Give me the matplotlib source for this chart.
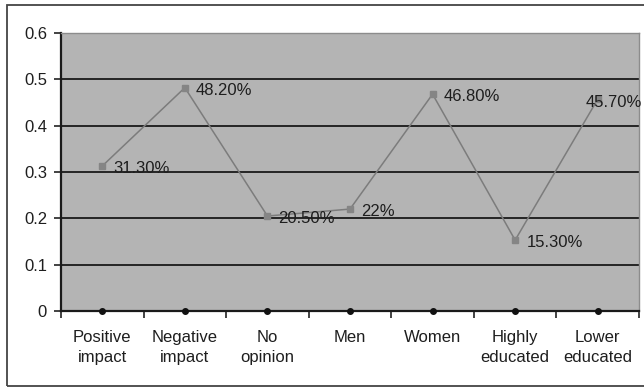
import matplotlib.pyplot as plt
import numpy as np
from matplotlib.patches import Rectangle

plt.rcParams['font.family'] = ['Liberation Sans', 'DejaVu Sans']

categories = ['Positive\nimpact', 'Negative\nimpact', 'No\nopinion', 'Men',
              'Women', 'Highly\neducated', 'Lower\neducated']
shares = [0.313, 0.482, 0.205, 0.22, 0.468, 0.153, 0.457]
labels = ['31.30%', '48.20%', '20.50%', '22%', '46.80%', '15.30%', '45.70%']
baseline = [0, 0, 0, 0, 0, 0, 0]
yticks = [0, 0.1, 0.2, 0.3, 0.4, 0.5, 0.6]

fig = plt.figure(figsize=(6.44, 3.88), dpi=100)
ax = fig.add_axes([61 / 644, 77 / 388, 578 / 644, 278 / 388])
ax.set_facecolor('#b4b4b4')

x = np.arange(len(categories))
ax.plot(x, shares, color='#7c7c7c', lw=1.1, marker='s', ms=4.5,
        mfc='#858585', mec='#858585', zorder=3)
ax.plot(x, baseline, ls='none', marker='o', ms=4, color='#111111', zorder=4,
        clip_on=False)

for i, (xi, v, t) in enumerate(zip(x, shares, labels)):
    # last label sits over its marker, as there is no room to its right
    dx = -8.5 if i == len(labels) - 1 else 8
    ax.annotate(t, (xi, v), xytext=(dx, -2), textcoords='offset points',
                ha='left', va='center', fontsize=12, color='#1e1e1e',
                zorder=5, annotation_clip=False)

ax.set_xlim(-0.5, len(categories) - 0.5)
ax.set_ylim(0, 0.6)
ax.set_yticks(yticks)
ax.set_yticklabels(['0', '0.1', '0.2', '0.3', '0.4', '0.5', '0.6'])
ax.yaxis.grid(True, color='#1a1a1a', lw=1.3)
ax.set_axisbelow(True)

ax.set_xticks(x)
ax.set_xticklabels(categories, fontsize=12, linespacing=1.35, color='#1e1e1e')
ax.set_xticks(np.arange(len(categories) + 1) - 0.5, minor=True)
ax.tick_params(axis='x', which='major', length=0, pad=14)
ax.tick_params(axis='x', which='minor', length=5, width=1.2, color='#222222')
ax.tick_params(axis='y', length=5, width=1.2, color='#222222',
               labelsize=12, labelcolor='#1e1e1e', pad=5)

for side in ['top', 'right']:
    ax.spines[side].set_color('#8c8c8c')
    ax.spines[side].set_linewidth(1)
for side in ['left', 'bottom']:
    ax.spines[side].set_color('#1a1a1a')
    ax.spines[side].set_linewidth(1.6)

# outer chart frame
fig.patches.append(Rectangle((7 / 644, 2 / 388), 650 / 644, 381 / 388,
                             transform=fig.transFigure, fill=False,
                             edgecolor='#444444', lw=1.3))

fig.savefig('out.png', dpi=100)
